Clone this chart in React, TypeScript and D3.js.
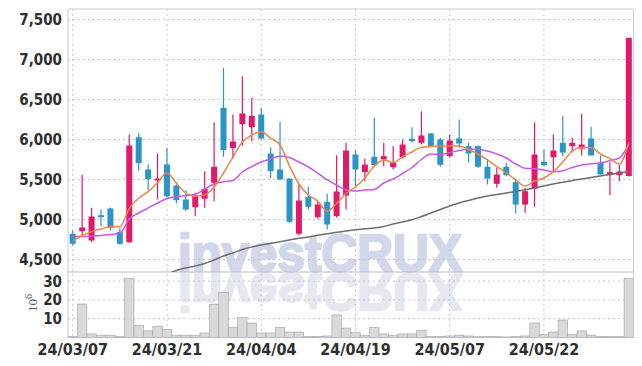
import React, { useEffect, useRef } from 'react';
import * as d3 from 'd3';

const dates = [
  '24/03/07', '24/03/08', '24/03/11', '24/03/12', '24/03/13', '24/03/14', '24/03/15', '24/03/18', '24/03/19', '24/03/20',
  '24/03/21', '24/03/22', '24/03/25', '24/03/26', '24/03/27', '24/03/28', '24/03/29', '24/04/01', '24/04/02', '24/04/03',
  '24/04/04', '24/04/05', '24/04/08', '24/04/09', '24/04/11', '24/04/12', '24/04/15', '24/04/16', '24/04/17', '24/04/18',
  '24/04/19', '24/04/22', '24/04/23', '24/04/24', '24/04/25', '24/04/26', '24/04/29', '24/04/30', '24/05/02', '24/05/03',
  '24/05/07', '24/05/08', '24/05/09', '24/05/10', '24/05/13', '24/05/14', '24/05/16', '24/05/17', '24/05/20', '24/05/21',
  '24/05/22', '24/05/23', '24/05/24', '24/05/27', '24/05/28', '24/05/29', '24/05/30', '24/05/31', '24/06/03', '24/06/04',
];

const opens = [
  4821, 4854, 4738, 5054, 5138, 4846, 4716, 6029, 5625, 5487,
  5688, 5425, 5250, 5154, 5259, 5459, 6396, 5892, 6192, 6154,
  6313, 5825, 5625, 5512, 4821, 5284, 5029, 5221, 5042, 5300,
  5812, 5592, 5784, 5750, 5654, 5779, 6009, 5959, 6075, 6000,
  5792, 6013, 5917, 5917, 5659, 5446, 5659, 5466, 5187, 5384,
  5721, 5779, 5959, 5917, 5887, 6013, 5709, 5554, 5554, 5542,
];
const highs = [
  4862, 5559, 5146, 5125, 5150, 4891, 6063, 6079, 5688, 5821,
  5896, 5437, 5366, 5333, 5604, 6216, 6896, 6313, 6792, 6521,
  6396, 5904, 6221, 5512, 5440, 5409, 5229, 5321, 5804, 5959,
  5862, 5759, 6271, 5959, 5917, 6000, 6154, 6354, 6083, 6021,
  6063, 6250, 5959, 5925, 5759, 5646, 5709, 5509, 5396, 6216,
  5875, 6063, 6292, 6021, 6321, 6158, 5800, 5717, 5679, 7271,
];
const lows = [
  4675, 4792, 4716, 4917, 4866, 4683, 4708, 5609, 5366, 5250,
  5271, 5200, 5104, 5042, 5146, 5229, 5784, 5763, 5925, 5979,
  6000, 5521, 5500, 4958, 4800, 5125, 5009, 4875, 5021, 5125,
  5417, 5479, 5679, 5667, 5625, 5763, 5959, 5937, 5908, 5659,
  5771, 5896, 5709, 5646, 5437, 5396, 5542, 5075, 5084, 5159,
  5667, 5584, 5787, 5842, 5800, 5800, 5562, 5304, 5479, 5542,
];
const closes = [
  4696, 4900, 5038, 5029, 4896, 4696, 5925, 5704, 5504, 5512,
  5292, 5242, 5125, 5292, 5384, 5659, 5867, 5975, 6325, 6296,
  6013, 5604, 5500, 4971, 5237, 5159, 5187, 4937, 5350, 5862,
  5625, 5687, 5679, 5792, 5709, 5937, 5979, 6050, 5917, 5684,
  5987, 5950, 5825, 5659, 5512, 5562, 5554, 5187, 5354, 5812,
  5679, 5862, 5837, 5959, 5937, 5800, 5562, 5592, 5600, 7271,
];

// volume in millions of shares
const volumes = [
  0.5, 17.8, 1.9, 1.2, 1.2, 0.6, 31.5, 6.5, 3.5, 6.0,
  4.4, 1.2, 1.2, 1.2, 2.4, 17.7, 24.0, 5.4, 10.7, 7.7,
  2.4, 2.4, 5.4, 2.9, 2.9, 0.6, 0.6, 0.8, 12.0, 5.0,
  2.6, 1.2, 5.4, 1.9, 1.2, 1.9, 1.9, 3.8, 0.6, 0.6,
  0.8, 1.2, 0.8, 0.5, 0.5, 0.5, 0.3, 0.5, 0.8, 7.7,
  1.5, 2.9, 9.3, 1.5, 3.5, 1.3, 0.6, 0.5, 0.5, 31.5,
];

const ma5 = [
  4735, 4798, 4848, 4881, 4910, 4910, 5140, 5265, 5348, 5460,
  5585, 5452, 5331, 5294, 5306, 5406, 5581, 5781, 5969, 6056,
  6098, 6015, 5931, 5669, 5444, 5306, 5231, 5106, 5200, 5328,
  5406, 5519, 5669, 5744, 5712, 5785, 5844, 5902, 5912, 5919,
  5919, 5919, 5875, 5819, 5744, 5662, 5585, 5494, 5419, 5481,
  5519, 5598, 5719, 5856, 5900, 5900, 5819, 5762, 5694, 5969,
];
const ma20 = [
  4787, 4787, 4794, 4800, 4812, 4828, 5006, 5081, 5144, 5206,
  5262, 5285, 5300, 5312, 5381, 5444, 5472, 5488, 5594, 5662,
  5719, 5756, 5794, 5775, 5719, 5656, 5581, 5494, 5431, 5369,
  5356, 5369, 5375, 5456, 5506, 5575, 5650, 5750, 5819, 5812,
  5837, 5862, 5881, 5878, 5856, 5819, 5769, 5694, 5640, 5634,
  5619, 5598, 5610, 5650, 5681, 5698, 5706, 5738, 5769, 5938,
];
const ma60 = [
  null, null, null, null, null, null, null, null, null, null,
  4319, 4363, 4394, 4419, 4450, 4494, 4544, 4581, 4625, 4656,
  4681, 4702, 4722, 4744, 4765, 4781, 4802, 4822, 4841, 4856,
  4871, 4884, 4894, 4912, 4944, 4969, 4997, 5037, 5081, 5125,
  5169, 5206, 5238, 5269, 5294, 5312, 5331, 5350, 5371, 5394,
  5419, 5444, 5465, 5488, 5506, 5525, 5544, 5562, 5581, 5600,
];

const priceTicks = [4500, 5000, 5500, 6000, 6500, 7000, 7500];
const volumeTicks = [10, 20, 30];
const dateTicks = ['24/03/07', '24/03/21', '24/04/04', '24/04/19', '24/05/07', '24/05/22'];

const UP = '#e2196a';
const DOWN = '#2b95c7';
const GRID = '#c4c7d8';
const FRAME = '#c9cbd6';
const LABEL_FONT = '"Liberation Sans Narrow", "DejaVu Sans Condensed", "Roboto", sans-serif';

const App: React.FC = () => {
  const svgRef = useRef<SVGSVGElement>(null);

  useEffect(() => {
    if (!svgRef.current) return;
    const width = 642;
    const height = 366;
    const left = 68;
    const right = 633.5;
    const top = 9;
    const priceBottom = 272;
    const volBottom = 337.5;

    const svg = d3.select(svgRef.current).attr('width', width).attr('height', height);
    svg.selectAll('*').remove();

    const x = d3.scalePoint<string>().domain(dates).range([left, right]).padding(0.5);
    const step = x.step();
    const candleW = 6;
    const yP = d3.scaleLinear().domain([4500, 7500]).range([259.5, 19.5]);
    const yV = d3.scaleLinear().domain([0, 30]).range([volBottom, 281.1]);

    const defs = svg.append('defs');
    defs
      .append('clipPath')
      .attr('id', 'priceClip')
      .append('rect')
      .attr('x', left)
      .attr('y', top)
      .attr('width', right - left)
      .attr('height', priceBottom - top);
    defs
      .append('clipPath')
      .attr('id', 'volClip')
      .append('rect')
      .attr('x', left)
      .attr('y', priceBottom + 1)
      .attr('width', right - left)
      .attr('height', volBottom - priceBottom - 1);

    // watermark + its reflection
    const wmX = 178;
    const wmBase = 271;
    const addMark = (sel: d3.Selection<any, unknown, null, undefined>, fill: string) =>
      sel
        .append('text')
        .attr('x', wmX)
        .attr('y', wmBase)
        .attr('textLength', 284)
        .attr('lengthAdjust', 'spacingAndGlyphs')
        .attr('font-family', '"Liberation Sans", Arial, sans-serif')
        .attr('font-weight', 'bold')
        .attr('font-size', 52)
        .attr('fill', fill)
        .attr('stroke', fill)
        .attr('stroke-width', 2.4)
        .attr('stroke-linejoin', 'round')
        .text('investCRUX');

    addMark(
      svg
        .append('g')
        .attr('clip-path', 'url(#volClip)')
        .append('g')
        .attr('transform', `translate(0,${2 * wmBase + 3}) scale(1,-1)`),
      '#e6e7ef',
    );
    addMark(svg.append('g'), '#d2d8ea');

    // grid
    const grid = svg.append('g').attr('stroke', GRID).attr('stroke-dasharray', '2,3');
    grid
      .selectAll('.hp')
      .data(priceTicks)
      .enter()
      .append('line')
      .attr('x1', left)
      .attr('x2', right)
      .attr('y1', (d) => yP(d))
      .attr('y2', (d) => yP(d));
    grid
      .selectAll('.hv')
      .data(volumeTicks)
      .enter()
      .append('line')
      .attr('x1', left)
      .attr('x2', right)
      .attr('y1', (d) => yV(d))
      .attr('y2', (d) => yV(d));
    grid
      .selectAll('.vx')
      .data(dateTicks)
      .enter()
      .append('line')
      .attr('x1', (d) => x(d) ?? 0)
      .attr('x2', (d) => x(d) ?? 0)
      .attr('y1', top)
      .attr('y2', volBottom);

    // volume bars
    svg
      .append('g')
      .selectAll('rect')
      .data(dates)
      .enter()
      .append('rect')
      .attr('x', (d) => (x(d) ?? 0) - step / 2)
      .attr('width', step)
      .attr('y', (d, i) => yV(volumes[i]))
      .attr('height', (d, i) => volBottom - yV(volumes[i]))
      .attr('fill', '#d9d9d9')
      .attr('stroke', '#ababab')
      .attr('stroke-width', 0.7);

    // frame
    const frame = svg.append('g').attr('stroke', FRAME).attr('stroke-width', 1);
    frame.append('line').attr('x1', left).attr('x2', right).attr('y1', top).attr('y2', top);
    frame.append('line').attr('x1', left).attr('x2', left).attr('y1', top).attr('y2', volBottom);
    frame.append('line').attr('x1', right).attr('x2', right).attr('y1', top).attr('y2', volBottom);
    frame
      .append('line')
      .attr('x1', left)
      .attr('x2', right)
      .attr('y1', priceBottom)
      .attr('y2', priceBottom)
      .attr('stroke', '#b9bbc6');
    frame
      .append('line')
      .attr('x1', left)
      .attr('x2', right)
      .attr('y1', volBottom)
      .attr('y2', volBottom)
      .attr('stroke', '#b9bbc6');

    const priceG = svg.append('g').attr('clip-path', 'url(#priceClip)');

    // candles
    const candles = priceG
      .selectAll('.candle')
      .data(dates)
      .enter()
      .append('g')
      .attr('class', 'candle')
      .attr('fill', (d, i) => (closes[i] >= opens[i] ? UP : DOWN))
      .attr('stroke', (d, i) => (closes[i] >= opens[i] ? UP : DOWN));
    candles
      .append('line')
      .attr('x1', (d) => x(d) ?? 0)
      .attr('x2', (d) => x(d) ?? 0)
      .attr('y1', (d, i) => yP(highs[i]))
      .attr('y2', (d, i) => yP(lows[i]))
      .attr('stroke-width', 1.2);
    candles
      .append('rect')
      .attr('x', (d) => (x(d) ?? 0) - candleW / 2)
      .attr('width', candleW)
      .attr('y', (d, i) => yP(Math.max(opens[i], closes[i])))
      .attr('height', (d, i) => Math.max(1.5, Math.abs(yP(opens[i]) - yP(closes[i]))))
      .attr('stroke', 'none');

    // moving averages
    const maLine = (vals: (number | null)[]) =>
      d3
        .line<string>()
        .defined((d, i) => vals[i] != null)
        .x((d) => x(d) ?? 0)
        .y((d, i) => yP(vals[i] as number))
        .curve(d3.curveMonotoneX)(dates);

    [
      { vals: ma60, color: '#6e6e70' },
      { vals: ma20, color: '#c85ae8' },
      { vals: ma5, color: '#ee8446' },
    ].forEach((s) => {
      priceG
        .append('path')
        .attr('d', maLine(s.vals) || '')
        .attr('fill', 'none')
        .attr('stroke', s.color)
        .attr('stroke-width', 1.5);
    });

    // axis labels
    const labels = svg
      .append('g')
      .attr('font-family', LABEL_FONT)
      .attr('font-weight', 'bold')
      .attr('fill', '#2e2e2e');
    labels
      .selectAll('.pl')
      .data(priceTicks)
      .enter()
      .append('text')
      .attr('x', 62)
      .attr('y', (d) => yP(d))
      .attr('dy', '0.36em')
      .attr('text-anchor', 'end')
      .attr('font-size', 15)
      .text((d) => d3.format(',')(d));
    labels
      .selectAll('.vl')
      .data(volumeTicks)
      .enter()
      .append('text')
      .attr('x', 62)
      .attr('y', (d) => yV(d))
      .attr('dy', '0.36em')
      .attr('text-anchor', 'end')
      .attr('font-size', 15)
      .text((d) => d);
    labels
      .selectAll('.xl')
      .data(dateTicks)
      .enter()
      .append('text')
      .attr('x', (d) => x(d) ?? 0)
      .attr('y', 355)
      .attr('text-anchor', 'middle')
      .attr('font-size', 16)
      .text((d) => d);

    const unit = svg
      .append('text')
      .attr('transform', 'translate(37,312) rotate(-90)')
      .attr('font-family', '"Liberation Serif", "DejaVu Serif", serif')
      .attr('font-size', 13)
      .attr('fill', '#555');
    unit.append('tspan').text('10');
    unit.append('tspan').attr('dy', -5).attr('font-size', 10).text('6');
  }, []);

  return (
    <svg
      ref={svgRef}
      style={{ position: 'absolute', left: 0, top: 0, background: '#fff' }}
    ></svg>
  );
};

export default App;
